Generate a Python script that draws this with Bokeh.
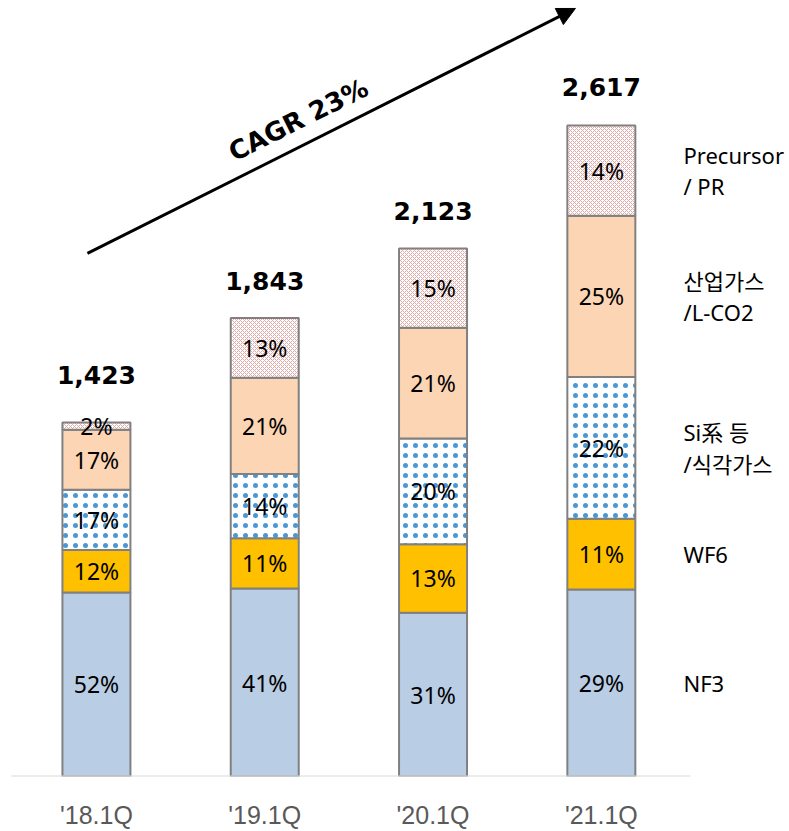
from bokeh.plotting import figure
from bokeh.models import ColumnDataSource, Arrow, NormalHead, FixedTicker
from bokeh.core.properties import value
from bokeh.embed import file_html
from bokeh.resources import INLINE

# ---------------- data ----------------
categories = ["'18.1Q", "'19.1Q", "'20.1Q", "'21.1Q"]
totals = [1423, 1843, 2123, 2617]
series_names = ["NF3", "WF6", "Si系 등\n/식각가스", "산업가스\n/L-CO2", "Precursor\n/ PR"]
nf3_pct = [52, 41, 31, 29]
wf6_pct = [12, 11, 13, 11]
si_pct = [17, 14, 20, 22]
ind_pct = [17, 21, 21, 25]
prec_pct = [2, 13, 15, 14]
cagr_text = "CAGR 23%"

series_pcts = [nf3_pct, wf6_pct, si_pct, ind_pct, prec_pct]

# ---------------- styles ----------------
fills = ["#B9CDE5", "#FFC000", "#FFFFFF", "#FCD5B5", "#FFFFFF"]
hatches = [None, None, "dot", None, "diagonal_cross"]
hatch_colors = [None, None, "#4A97D4", None, "#E3A9A8"]
hatch_scales = [None, None, 10, None, 4]
hatch_weights = [None, None, 0.3, None, 1.0]
outline = "#808080"
bar_width = 0.404
total_lift = [48, 37, 37, 39]

W, H = 789, 831
p = figure(width=W, height=H, output_backend="svg", toolbar_location=None,
           x_range=(-0.570, 4.118), y_range=(0, 3120),
           min_border_left=0, min_border_right=0, min_border_top=0, min_border_bottom=55)
p.outline_line_color = None
p.grid.visible = False
p.yaxis.visible = False
p.background_fill_color = "white"
p.border_fill_color = "white"

xs = list(range(len(categories)))
sums = [sum(s[i] for s in series_pcts) for i in xs]

bottoms = [0.0] * len(xs)
last_centers = []
for k, pcts in enumerate(series_pcts):
    vals = [totals[i] * pcts[i] / sums[i] for i in xs]
    tops = [bottoms[i] + vals[i] for i in xs]
    mids = [(bottoms[i] + tops[i]) / 2 for i in xs]
    src = ColumnDataSource(dict(x=xs, bottom=bottoms, top=tops, mid=mids,
                                lab=[f"{v}%" for v in pcts]))
    kw = dict(fill_color=fills[k], line_color=outline, line_width=2)
    if hatches[k]:
        kw.update(hatch_pattern=hatches[k], hatch_color=hatch_colors[k],
                  hatch_scale=hatch_scales[k], hatch_weight=hatch_weights[k])
    p.vbar(x="x", bottom="bottom", top="top", width=bar_width, source=src, **kw)
    p.text(x="x", y="mid", text="lab", source=src, text_align="center",
           text_baseline="middle", text_font=value("Noto Sans"),
           text_font_size="23px", text_color="black")
    last_centers.append(mids[-1])
    bottoms = tops

# total labels
tsrc = ColumnDataSource(dict(x=xs, y=totals, lab=[f"{t:,}" for t in totals],
                             off=[-v for v in total_lift]))
p.text(x="x", y="y", text="lab", source=tsrc, y_offset="off",
       text_align="center", text_baseline="alphabetic",
       text_font=value("DejaVu Sans"), text_font_style="bold",
       text_font_size="25px", text_color="black")

# right-side series labels aligned to last bar segments
lsrc = ColumnDataSource(dict(x=[xs[-1] + 0.488] * len(series_names),
                             y=last_centers, lab=series_names))
p.text(x="x", y="y", text="lab", source=lsrc, text_align="left",
       text_baseline="middle", text_font=value("Noto Sans, Noto Sans CJK KR"),
       text_font_size="22px", text_color="black", text_line_height=1.05)

# baseline
p.segment(x0=[-0.505], y0=[0], x1=[3.53], y1=[0], line_color="#D9D9D9", line_width=2)

# CAGR arrow
p.add_layout(Arrow(end=NormalHead(size=18, fill_color="black", line_color="black"),
                   x_start=-0.0535, y_start=2103, x_end=2.846, y_end=3088,
                   line_width=3, line_color="black"))
p.text(x=[1.200], y=[2640], text=[cagr_text], angle=26.5, angle_units="deg",
       text_align="center", text_baseline="middle",
       text_font=value("DejaVu Sans"), text_font_style="bold",
       text_font_size="26px", text_color="black")

# x axis
p.xaxis.ticker = FixedTicker(ticks=xs)
p.xaxis.major_label_overrides = {i: c for i, c in zip(xs, categories)}
p.xaxis.axis_line_color = None
p.xaxis.major_tick_line_color = None
p.xaxis.minor_tick_line_color = None
p.xaxis.major_label_standoff = 18
p.xaxis.major_label_text_font = "Liberation Sans"
p.xaxis.major_label_text_font_size = "25px"
p.xaxis.major_label_text_color = "#595959"

open("out.html", "w").write(file_html(p, INLINE))
